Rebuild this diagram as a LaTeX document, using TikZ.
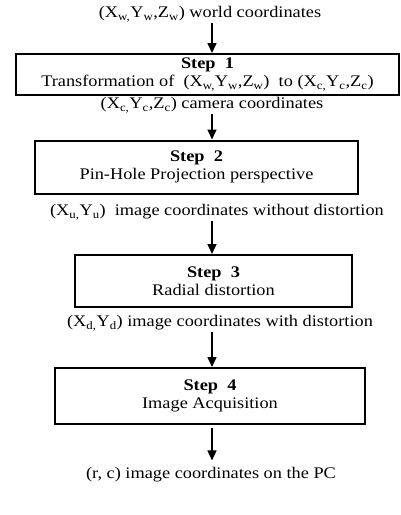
\documentclass[tikz,border=0pt]{standalone}
\usepackage{fontspec}
\setmainfont{Liberation Serif}[FakeStretch=1.13]
\usetikzlibrary{arrows.meta}
\newcommand{\sbx}[1]{\textsubscript{#1}}
\begin{document}
\begin{tikzpicture}[x=1pt,y=-1pt,
  lbl/.style={inner sep=1pt,font=\fontsize{16.2}{17}\selectfont},
  stepbox/.style={draw,line width=2pt,align=center,inner sep=1pt,font=\fontsize{16.2}{17.5}\selectfont},
  arr/.style={line width=1.6pt,-{Triangle[width=9pt,length=10pt]}}]
\useasboundingbox (0,0) rectangle (401,515);
\coordinate (ax) at (212,0);
\node[lbl] (t0) at (210,14) {(X\sbx{w,}Y\sbx{w},Z\sbx{w}) world coordinates};
\node[stepbox,minimum width=383pt,minimum height=41pt] (s1) at (207.5,74.5)
  {\textbf{Step\ \ 1}\\Transformation of \ (X\sbx{w,}Y\sbx{w},Z\sbx{w}) \ to (X\sbx{c,}Y\sbx{c},Z\sbx{c})};
\node[lbl] (t1) at (212,105) {(X\sbx{c,}Y\sbx{c},Z\sbx{c}) camera coordinates};
\node[stepbox,minimum width=323pt,minimum height=53pt] (s2) at (196.5,167)
  {\textbf{Step\ \ 2}\\Pin-Hole Projection perspective};
\node[lbl] (t2) at (217,212) {(X\sbx{u,}Y\sbx{u}) \ image coordinates without distortion};
\node[stepbox,minimum width=277pt,minimum height=52pt] (s3) at (213.5,281)
  {\textbf{Step\ \ 3}\\Radial distortion};
\node[lbl] (t3) at (220,323) {(X\sbx{d,}Y\sbx{d}) image coordinates with distortion};
\node[stepbox,minimum width=310pt,minimum height=56pt] (s4) at (210,396)
  {\textbf{Step\ \ 4}\\Image Acquisition};
\node[lbl] (t4) at (211,475) {(r, c) image coordinates on the PC};
\draw[arr] (t0.south -| ax) -- (s1.north -| ax);
\draw[arr] (t1.south -| ax) -- (s2.north -| ax);
\draw[arr] (t2.south -| ax) -- (s3.north -| ax);
\draw[arr] (t3.south -| ax) -- (s4.north -| ax);
\draw[arr,shorten <=3pt,shorten >=6pt] (s4.south -| ax) -- (t4.north -| ax);
\end{tikzpicture}
\end{document}
